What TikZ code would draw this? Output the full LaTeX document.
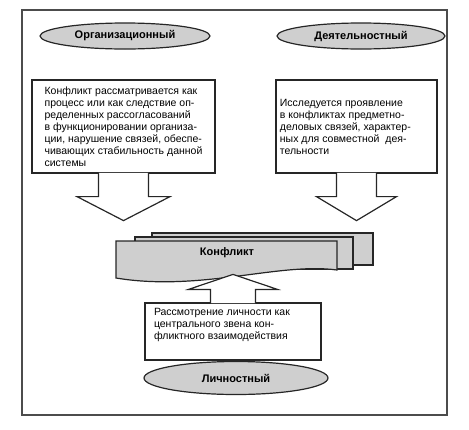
\documentclass[tikz,border=0pt]{standalone}
\usepackage{fontspec}
\setmainfont{Liberation Sans}
\usetikzlibrary{shapes.geometric}

\begin{document}
\begin{tikzpicture}[x=1pt,y=-1pt,
    kind/.style={ellipse,draw=black!85,line width=1.2pt,fill=gray!38,
      inner sep=0pt,font=\fontsize{11}{12}\selectfont\bfseries},
    descr/.style={rectangle,draw=black!85,line width=1.2pt,fill=white,
      inner sep=0pt,align=left,font=\fontsize{10.5}{12}\selectfont},
    sheet/.style={draw=black!85,line width=1.2pt,fill=gray!38,line join=miter},
    blockarrow/.style={draw=black!85,line width=1.2pt,fill=white,line join=miter}]
  \useasboundingbox (0,0) rectangle (469,429);
  \draw[black!70,line width=1.5pt] (22,10) rectangle (447,415);

  % three kinds of approach
  \node[kind,minimum width=170pt,minimum height=26pt] (org) at (125,36) {Организационный};
  \node[kind,minimum width=168pt,minimum height=26pt] (act) at (361,36) {Деятельностный};

  \node[descr,minimum width=183pt,minimum height=93pt] (orgtext) at (123.5,126.5)
    {Конфликт рассматривается как\\
     процесс или как следствие оп-\\
     ределенных рассогласований\\
     в функционировании организа-\\
     ции, нарушение связей, обеспе-\\
     чивающих стабильность данной\\
     системы};
  \node[descr,minimum width=161pt,minimum height=93pt] (acttext) at (356.5,126.5)
    {Исследуется проявление\phantom{ыыыы}\\
     в конфликтах предметно-\\
     деловых связей, характер-\\
     ных для совместной\ \ дея-\\
     тельности};

  % conflict sheets
  \draw[sheet] (152,233) rectangle (373,265);
  \draw[sheet] (135,237) rectangle (353,269);
  \draw[sheet] (116,241) -- (337,241) -- (337,270)
    .. controls (280,262) and (200,292) .. (116,278) -- cycle;
  \node[font=\fontsize{11}{12}\selectfont\bfseries] (conflict) at (227,253) {Конфликт};

  \node[descr,minimum width=176pt,minimum height=57pt] (perstext) at (233,331.5)
    {\parbox[c][47pt][t]{158pt}{\raggedright Рассмотрение личности как\\
     центрального звена кон-\\
     фликтного взаимодействия}};
  \node[kind,minimum width=184pt,minimum height=33pt] (pers) at (236,378) {Личностный};

  % block arrows
  \draw[blockarrow] ([xshift=-25pt,yshift=0.7pt]orgtext.south) -- ++(0,23.7) -- ++(-21.5,0)
    -- ++(46.5,24) -- ++(46.5,-24) -- ++(-21.5,0) -- ++(0,-23.7);
  \draw[blockarrow] ([xshift=-20pt,yshift=0.7pt]acttext.south) -- ++(0,23.7) -- ++(-20,0)
    -- ++(40,24) -- ++(40,-24) -- ++(-20,0) -- ++(0,-23.7);
  \draw[blockarrow] ([xshift=-22.5pt,yshift=-0.7pt]perstext.north) -- ++(0,-13.7) -- ++(-22,0)
    -- ++(44.5,-15) -- ++(44.5,15) -- ++(-22,0) -- ++(0,13.7);
\end{tikzpicture}
\end{document}
